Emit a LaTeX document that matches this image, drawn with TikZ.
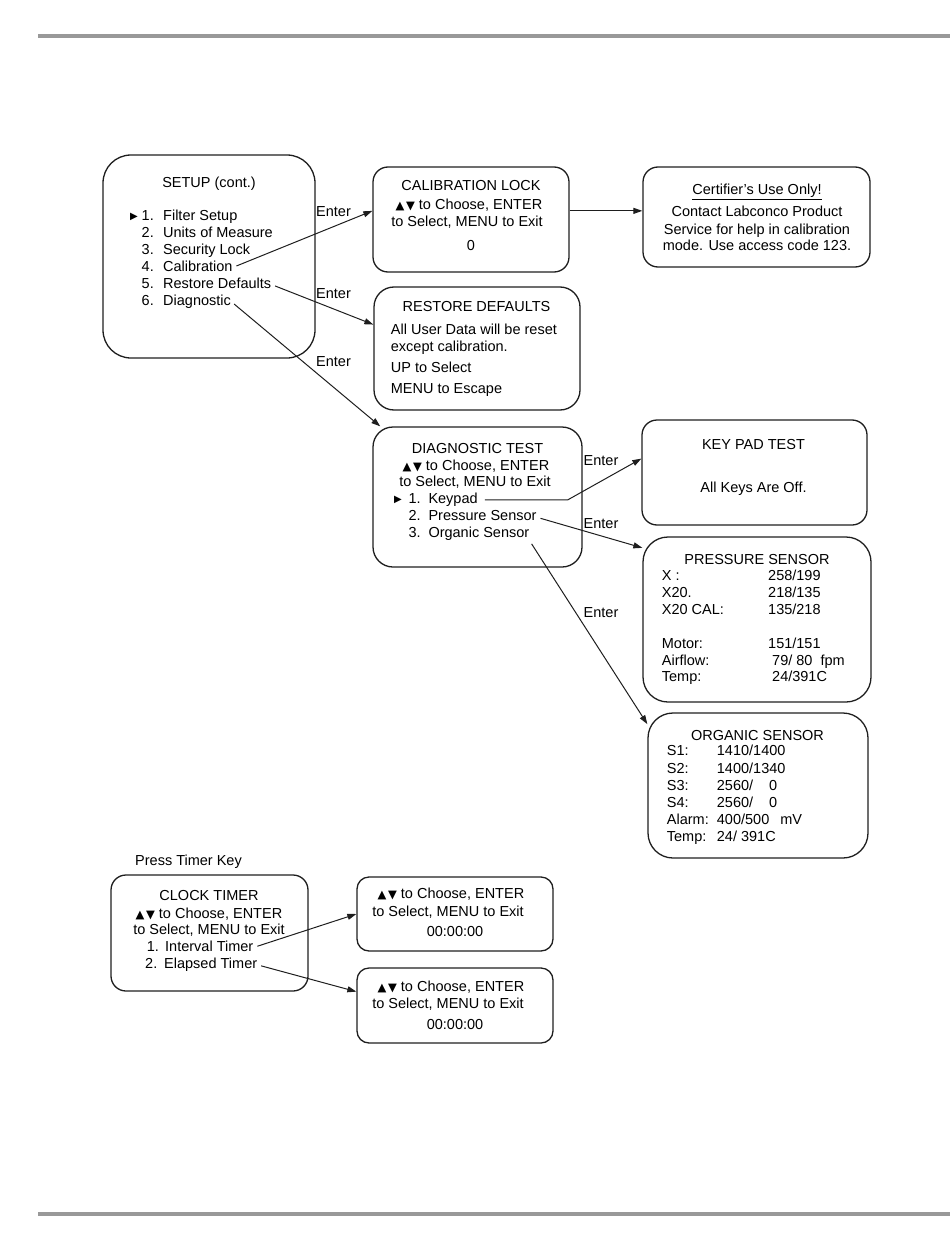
\documentclass[tikz,border=0pt]{standalone}
\usepackage{fontspec}
\setmainfont{Liberation Sans}
\newfontfamily\symfont{DejaVu Sans}
\usepackage{tikz}
\usetikzlibrary{calc,arrows.meta}
\definecolor{ScrFrame}{HTML}{1E1E1E}
\definecolor{RuleGray}{HTML}{999999}
\newcommand{\updn}{{\symfont\fontsize{11.5}{10}\selectfont ▲\hspace{1.5pt}▼}}
\newcommand{\ptr}{{\symfont\fontsize{10}{9}\selectfont ▶}}
\newcommand{\itm}[2][21.5pt]{\makebox[#1][l]{#2}}

\begin{document}
\begin{tikzpicture}[x=1pt,y=-1pt,>={Stealth[length=9pt,width=6pt,inset=0pt]}]
  \tikzstyle{scr}=[draw=ScrFrame, line width=1.3pt, inner sep=0pt]
  \tikzstyle{ln}=[inner sep=0pt, font=\fontsize{14.5}{17}\selectfont,
               text height=10pt, text depth=3pt]
  \tikzstyle{lnc}=[ln, anchor=base]
  \tikzstyle{lnl}=[ln, anchor=base west]
  \tikzstyle{go}=[->, draw=ScrFrame, line width=1pt, shorten <=4pt]
  \useasboundingbox (0,0) rectangle (950,1260);
  % page rules
  \fill[RuleGray] (38,34) rectangle (950,38);
  \fill[RuleGray] (38,1212) rectangle (950,1216);
  % screens
  \node[scr, rounded corners=28pt, minimum width=212pt, minimum height=203pt] (setup) at (209,256.5) {};
  \node[scr, rounded corners=15pt, minimum width=196pt, minimum height=105pt] (callock) at (471,219.5) {};
  \node[scr, rounded corners=15pt, minimum width=227pt, minimum height=100pt] (certif) at (756.5,217) {};
  \node[scr, rounded corners=20pt, minimum width=206pt, minimum height=123pt] (restore) at (477,348.5) {};
  \node[scr, rounded corners=20pt, minimum width=209pt, minimum height=140pt] (diag) at (477.5,497) {};
  \node[scr, rounded corners=15pt, minimum width=225pt, minimum height=105pt] (keypad) at (754.5,472.5) {};
  \node[scr, rounded corners=25pt, minimum width=228pt, minimum height=165pt] (press) at (757,619.5) {};
  \node[scr, rounded corners=25pt, minimum width=220pt, minimum height=145pt] (organic) at (758,785.5) {};
  \node[scr, rounded corners=15pt, minimum width=197pt, minimum height=116pt] (clock) at (209.5,933) {};
  \node[scr, rounded corners=12pt, minimum width=196pt, minimum height=74pt] (tm1) at (455,914) {};
  \node[scr, rounded corners=12pt, minimum width=196pt, minimum height=75pt] (tm2) at (455,1005.5) {};
  % setup menu
  \node[lnc] (suhd) at (209,187) {SETUP (cont.)};
  \node[lnl] (suptr) at (130,219) {\ptr};
  \node[lnl] (su1) at (141.5,220) {\itm{1.}Filter Setup};
  \node[lnl] (su2) at (141.5,237) {\itm{2.}Units of Measure};
  \node[lnl] (su3) at (141.5,254) {\itm{3.}Security Lock};
  \node[lnl] (su4) at (141.5,271) {\itm{4.}Calibration};
  \node[lnl] (su5) at (141.5,288) {\itm{5.}Restore Defaults};
  \node[lnl] (su6) at (141.5,305) {\itm{6.}Diagnostic};
  % calibration lock
  \node[lnc] (clhd) at (471,191) {CALIBRATION LOCK};
  \node[lnc] (cl1) at (469,209) {\updn\ to Choose, ENTER};
  \node[lnc] (cl2) at (467,226) {to Select, MENU to Exit};
  \node[lnc] (cl3) at (471,250) {0};
  % certifier note
  \node[lnc] (cehd) at (757,195) {\underline{Certifier's Use Only!}};
  \node[lnc] (ce1) at (757,216.7) {Contact Labconco Product};
  \node[lnc] (ce2) at (757,234) {Service for help in calibration};
  \node[lnc] (ce3) at (757,250.7) {mode. Use access code 123.};
  % restore defaults
  \node[lnc] (rshd) at (476.5,311.7) {RESTORE DEFAULTS};
  \node[lnl] (rs1) at (390.7,334.3) {All User Data will be reset};
  \node[lnl] (rs2) at (390.7,351) {except calibration.};
  \node[lnl] (rs3) at (390.7,372.7) {UP to Select};
  \node[lnl] (rs4) at (390.7,393.3) {MENU to Escape};
  % diagnostic test
  \node[lnc] (dkhd) at (477.5,453.3) {DIAGNOSTIC TEST};
  \node[lnc] (dka) at (476,470) {\updn\ to Choose, ENTER};
  \node[lnc] (dkb) at (475,486.7) {to Select, MENU to Exit};
  \node[lnl] (dkptr) at (394,502.3) {\ptr};
  \node[lnl] (dk1) at (408.3,503.3) {\itm[20pt]{1.}Keypad};
  \node[lnl] (dk2) at (408.3,520.7) {\itm[20pt]{2.}Pressure Sensor};
  \node[lnl] (dk3) at (408.3,537.3) {\itm[20pt]{3.}Organic Sensor};
  % key pad test
  \node[lnc] (kphd) at (753.5,449.3) {KEY PAD TEST};
  \node[lnc] (kp1) at (753.5,492.7) {All Keys Are Off.};
  % pressure sensor
  \node[lnc] (pshd) at (757,564) {PRESSURE SENSOR};
  \node[lnl] (psl1) at (661.7,580.7) {X :};
  \node[lnl] (psv1) at (768,580.7) {258/199};
  \node[lnl] (psl2) at (661.7,597.7) {X20.};
  \node[lnl] (psv2) at (768,597.7) {218/135};
  \node[lnl] (psl3) at (661.7,614) {X20 CAL:};
  \node[lnl] (psv3) at (768,614) {135/218};
  \node[lnl] (psl4) at (661.7,648.3) {Motor:};
  \node[lnl] (psv4) at (768,648.3) {151/151};
  \node[lnl] (psl5) at (661.7,665) {Airflow:};
  \node[lnl] (psv5) at (772,665) {79/~80~~fpm};
  \node[lnl] (psl6) at (661.7,681.7) {Temp:};
  \node[lnl] (psv6) at (772,681.7) {24/391C};
  % organic sensor
  \node[lnc] (oshd) at (757.5,740) {ORGANIC SENSOR};
  \node[lnl] (osl1) at (666.7,755.7) {S1:};
  \node[lnl] (osv1) at (716.7,755.7) {1410/1400};
  \node[lnl] (osl2) at (666.7,773.3) {S2:};
  \node[lnl] (osv2) at (716.7,773.3) {1400/1340};
  \node[lnl] (osl3) at (666.7,790) {S3:};
  \node[lnl] (osv3) at (716.7,790) {2560/\hspace{16pt}0};
  \node[lnl] (osl4) at (666.7,807.3) {S4:};
  \node[lnl] (osv4) at (716.7,807.3) {2560/\hspace{16pt}0};
  \node[lnl] (osl5) at (666.7,824) {Alarm:};
  \node[lnl] (osv5) at (716.7,824) {400/500\hspace{11pt}mV};
  \node[lnl] (osl6) at (666.7,841.7) {Temp:};
  \node[lnl] (osv6) at (716.7,841.7) {24/~391C};
  % clock timer
  \node[lnl] (tkey) at (135,865) {Press Timer Key};
  \node[lnc] (cthd) at (209,900) {CLOCK TIMER};
  \node[lnc] (cta) at (209,918.3) {\updn\ to Choose, ENTER};
  \node[lnc] (ctb) at (209,934.3) {to Select, MENU to Exit};
  \node[lnl] (ct1) at (146.7,951) {\itm[18.3pt]{1.}Interval Timer};
  \node[lnl] (ct2) at (145,968.3) {\itm[19pt]{2.}Elapsed Timer};
  % timer screens
  \node[lnc] (t1a) at (451,898.3) {\updn\ to Choose, ENTER};
  \node[lnc] (t1b) at (448,916) {to Select, MENU to Exit};
  \node[lnc] (t1c) at (455,936.7) {00:00:00};
  \node[lnc] (t2a) at (451,991) {\updn\ to Choose, ENTER};
  \node[lnc] (t2b) at (448,1008.3) {to Select, MENU to Exit};
  \node[lnc] (t2c) at (455,1029) {00:00:00};
  % Enter labels
  \node[lnc] (en1) at (333.5,216) {Enter};
  \node[lnc] (en2) at (333.5,298) {Enter};
  \node[lnc] (en3) at (333.5,366) {Enter};
  \node[lnc] (en4) at (601,465) {Enter};
  \node[lnc] (en5) at (601,528) {Enter};
  \node[lnc] (en6) at (601,617) {Enter};
  % connectors
  \draw[go] (su4.east) -- (callock.175);
  \draw[go, shorten <=0pt] (callock.5) -- (callock.5 -| certif.west);
  \draw[go] (su5.east) -- (restore.167);
  \draw[go] (su6.east) -- (diag.144);
  \draw[go, shorten <=7pt] (dk1.east) -- ++(90,0) -- (keypad.173);
  \draw[go] (dk2.east) -- (press.148);
  \draw[go] (dk3.south east) -- (organic.151);
  \draw[go] (ct1.east) -- (tm1.west);
  \draw[go] (ct2.east) -- (tm2.172);
\end{tikzpicture}
\end{document}
